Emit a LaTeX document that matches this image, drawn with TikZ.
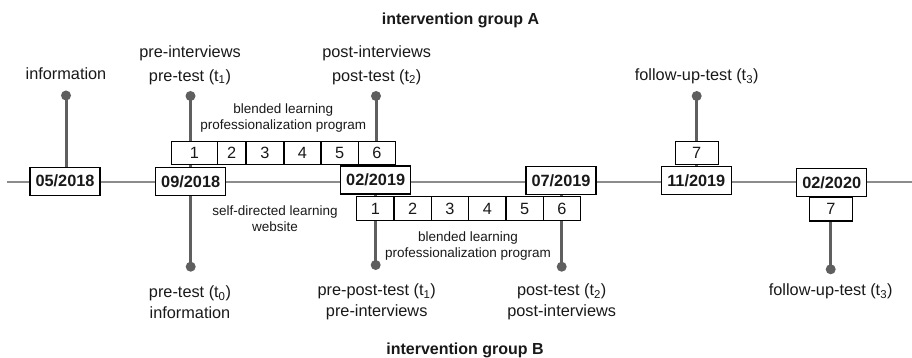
\documentclass[tikz,border=0pt]{standalone}
\usepackage{fontspec}
\setmainfont{Liberation Sans}
\usetikzlibrary{positioning,backgrounds}
\definecolor{axisInk}{RGB}{140,140,140}
\definecolor{pinInk}{RGB}{95,95,95}
\definecolor{txtInk}{RGB}{25,25,25}
\newcommand\lblfont{\fontsize{16.3}{23.5}\selectfont}
\newcommand\notefont{\fontsize{13.5}{16}\selectfont}

\begin{document}
\begin{tikzpicture}[
  x=10pt, y=-10pt,
  date/.style ={draw=black, line width=1.2pt, fill=white, font=\lblfont\bfseries, text=txtInk,
                minimum width=70pt, minimum height=28pt, inner sep=0pt},
  cell/.style ={draw=black, line width=1.1pt, fill=white, font=\lblfont, text=txtInk,
                minimum height=22.5pt, inner sep=0pt},
  dot/.style  ={circle, fill=pinInk, minimum size=10pt, inner sep=0pt},
  stem/.style ={draw=pinInk, line width=3pt},
  axis/.style ={draw=axisInk, line width=1.5pt},
  lbl/.style  ={font=\lblfont, text=txtInk, align=center, inner sep=0pt},
  note/.style ={font=\notefont, text=txtInk, align=center, inner sep=0pt},
  grp/.style  ={font=\fontsize{16}{19}\selectfont\bfseries, text=txtInk, inner sep=0pt},
]
\useasboundingbox (0,0) rectangle (91.2,35.8);

% ============ DATES ON THE TIME AXIS ============
\node[date] (d1) at (6.5,18.12)   {05/2018};
\node[date] (d2) at (19.07,18.13) {09/2018};
\node[date] (d3) at (37.57,18.0)  {02/2019};
\node[date] (d4) at (56.1,18.05)  {07/2019};
\node[date] (d5) at (69.63,18.05) {11/2019};
\node[date] (d6) at (83.17,18.25) {02/2020};

% ============ GROUP A : sessions above the axis ============
\foreach \n/\cx/\w in {1/19.45/45.6, 2/23.165/28.7, 3/26.5/38, 4/30.25/37, 5/33.965/37.3, 6/37.7/37.4}
  \node[cell, minimum width=\w pt] (a\n) at (\cx,15.285) {\n};
\node[cell, minimum width=43.3pt] (a7) at (69.67,15.3) {7};

% ============ GROUP B : sessions below the axis ============
\foreach \n in {1,...,6}
  \node[cell, minimum width=37.33pt, minimum height=23.6pt] (b\n) at ({35.67+(\n-0.5)*3.733},20.85) {\n};
\node[cell, minimum width=43pt, minimum height=23.3pt] (b7) at (83.08,20.93) {7};

% ============ PINS ============
\node[dot] (pa0) at (6.6,9.55)   {};
\node[dot] (pa1) at (19.05,9.6)  {};
\node[dot] (pa2) at (37.6,9.6)   {};
\node[dot] (pa3) at (69.67,9.6)  {};
\node[dot] (pb1) at (19.07,26.67) {};
\node[dot] (pb2) at (37.57,26.5)  {};
\node[dot] (pb3) at (56.17,26.67) {};
\node[dot] (pb4) at (83.07,26.93) {};

\begin{scope}[on background layer]
  \coordinate (tl-w) at (0.7,18.2);
  \coordinate (tl-e) at (91.2,18.2);
  \draw[axis] (tl-w) -- (tl-e);
  \draw[stem] (pa0.center) -- (pa0 |- d1.north);
  \draw[stem] (pa1.center) -- (pa1 |- d2.north);
  \draw[stem] (pa2.center) -- (pa2 |- d3.north);
  \draw[stem] (pa3.center) -- (pa3 |- d5.north);
  \draw[stem] (pb1.center) -- (pb1 |- d2.south);
  \draw[stem] (pb2.center) -- (pb2 |- d3.south);
  \draw[stem] (pb3.center) -- (pb3 |- d4.south);
  \draw[stem] (pb4.center) -- (pb4 |- d6.south);
\end{scope}

% ============ LABELS ============
\node[lbl] (info)  at (6.6,7.4)   {information};
\node[lbl] (preA)  at (19.0,6.52) {pre-interviews\\pre-test (t\textsubscript{1})};
\node[lbl] (postA) at (37.67,6.52) {post-interviews\\post-test (t\textsubscript{2})};
\node[lbl] (folA)  at (69.67,7.67) {follow-up-test (t\textsubscript{3})};
\node[note] (blA)  at (28.33,11.8) {blended learning\\professionalization program};

\node[note] (sdl)  at (27.5,21.88) {self-directed learning\\website};
\node[note] (blB)  at (46.8,24.63) {blended learning\\professionalization program};
\node[lbl] (preB)  at (19.0,30.22) {pre-test (t\textsubscript{0})\\[-2.5pt]information};
\node[lbl] (ppB)   at (37.67,30.22) {pre-post-test (t\textsubscript{1})\\[-2.5pt]pre-interviews};
\node[lbl] (postB) at (56.17,30.22) {post-test (t\textsubscript{2})\\[-2.5pt]post-interviews};
\node[lbl] (folB)  at (83.07,29.17) {follow-up-test (t\textsubscript{3})};

% group titles
\node[grp] (grpA) at (46.05,2.0)  {intervention group A};
\node[grp] (grpB) at (46.5,35.0)  {intervention group B};

\end{tikzpicture}
\end{document}
